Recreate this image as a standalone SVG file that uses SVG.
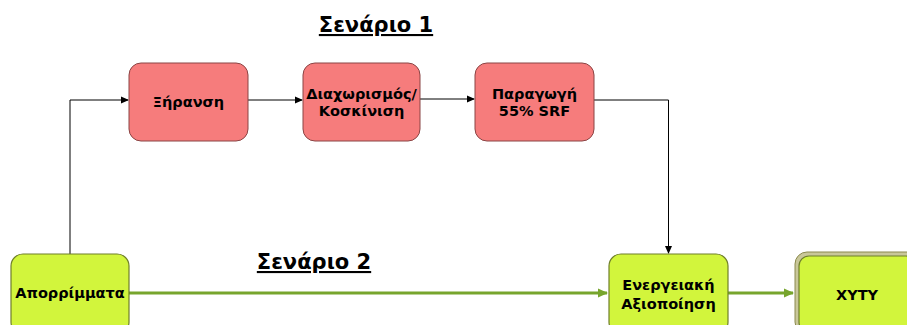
<svg xmlns="http://www.w3.org/2000/svg" width="907" height="325" viewBox="0 0 907 325">
<style>
.pink{fill:#F67C7C;stroke:#8A4444;stroke-width:1}
.lime{fill:#D2F53C;stroke:#6F7F2A;stroke-width:1.2}
.t{font-family:"DejaVu Sans",Verdana,sans-serif;font-weight:bold;font-size:14.5px;fill:#000;text-anchor:middle}
.h{font-family:"DejaVu Sans",Verdana,sans-serif;font-weight:bold;font-size:21px;fill:#000;text-anchor:middle;text-decoration:underline}
.blk{stroke:#000;stroke-width:1;fill:none}
.grn{stroke:#77A52D;stroke-width:3;fill:none}
</style>
<defs>
<marker id="ab" markerWidth="8" markerHeight="8" refX="7" refY="4" orient="auto" markerUnits="userSpaceOnUse"><path d="M0,0.5 L8,4 L0,7.5 z" fill="#000"/></marker>
<marker id="ag" markerWidth="10" markerHeight="10" refX="9" refY="5" orient="auto" markerUnits="userSpaceOnUse"><path d="M0,0.5 L10,5 L0,9.5 z" fill="#77A52D"/></marker>
</defs>
<rect width="907" height="325" fill="#fff"/>
<text class="h" x="376" y="32">Σενάριο 1</text>
<text class="h" x="314" y="269">Σενάριο 2</text>
<g id="connectors">
<path class="blk" d="M70,255 V100 H128" marker-end="url(#ab)"/>
<path class="blk" d="M248,100 H302" marker-end="url(#ab)"/>
<path class="blk" d="M420,99 H474" marker-end="url(#ab)"/>
<path class="blk" d="M594,100 H668.5 V253" marker-end="url(#ab)"/>
<path class="grn" d="M129,293 H607" marker-end="url(#ag)"/>
<path class="grn" d="M728,293 H793" marker-end="url(#ag)"/>
</g>
<g id="xiransi"><rect class="pink" x="129" y="63" width="119" height="78" rx="12"/><text class="t" x="188.5" y="107">Ξήρανση</text></g>
<g id="diaxorismos"><rect class="pink" x="303" y="63" width="117" height="78" rx="12"/><text class="t" x="361.5" y="99">Διαχωρισμός/</text><text class="t" x="361.5" y="116">Κοσκίνιση</text></g>
<g id="paragogi"><rect class="pink" x="475" y="63" width="119" height="78" rx="12"/><text class="t" x="534.5" y="99">Παραγωγή</text><text class="t" x="534.5" y="116">55% SRF</text></g>
<g id="aporrimmata"><rect class="lime" x="11" y="254" width="118" height="80" rx="12"/><text class="t" x="70" y="298">Απορρίμματα</text></g>
<g id="energeiaki"><rect class="lime" x="609" y="254" width="119" height="80" rx="12"/><text class="t" x="668.5" y="290">Ενεργειακή</text><text class="t" x="668.5" y="309">Αξιοποίηση</text></g>
<g id="xyty"><rect x="795" y="252" width="125" height="82" rx="12" fill="#C9C79A" stroke="#8C8A4E" stroke-width="1"/><rect class="lime" x="799" y="256" width="117" height="76" rx="10" stroke-width="2.5" stroke="#8C8A3A"/><text class="t" x="857" y="300">XYTY</text></g>
</svg>
